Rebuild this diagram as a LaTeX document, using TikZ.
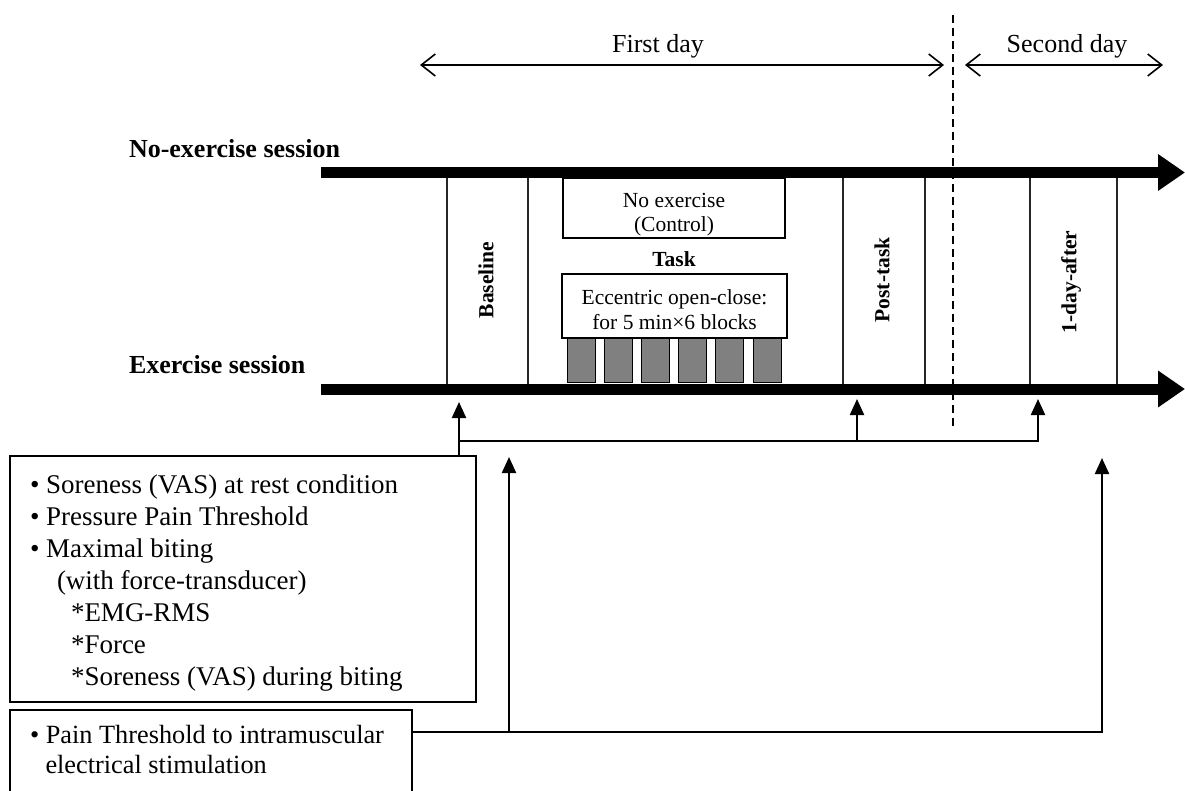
\documentclass[tikz,border=0pt]{standalone}
\usepackage{fontspec}
\setmainfont{Liberation Serif}
\usetikzlibrary{arrows.meta}
\definecolor{blockgray}{RGB}{128,128,128}
\begin{document}
\begin{tikzpicture}[x=1pt,y=-1pt,
  every node/.style={inner sep=0pt, outer sep=0pt},
  lbl/.style={font=\fontsize{26}{32}\selectfont},
  sess/.style={font=\bfseries\fontsize{26}{32}\selectfont, anchor=base west},
  small/.style={font=\fontsize{21.5}{24.5}\selectfont},
  phase/.style={font=\bfseries\fontsize{21.5}{25}\selectfont, rotate=90},
  boxr/.style={draw, line width=1.4pt, anchor=north west},
  blk/.style={draw, line width=1pt, fill=blockgray, minimum width=28pt, minimum height=44pt, anchor=north west},
  div/.style={line width=1.3pt, draw=black!85},
  timeline/.style={line width=11pt, -{Triangle[length=27pt,width=35pt]}},
  dayarrow/.style={line width=1.6pt, {Straight Barb[length=14pt,width=22pt]}-{Straight Barb[length=14pt,width=22pt]}},
  conn/.style={line width=2.2pt},
  tri/.style={-{Triangle[length=16pt,width=14pt]}}
]
\useasboundingbox (0,0) rectangle (1185,791);

% day labels
\node[lbl, anchor=base] (fd) at (658,53) {First day};
\node[lbl, anchor=base] (sd) at (1067,53) {Second day};
\coordinate (fdl) at (420,65); \coordinate (fdr) at (944,65);
\coordinate (sdl) at (965,65); \coordinate (sdr) at (1163,65);
\draw[dayarrow] (fdl) -- (fdr);
\draw[dayarrow] (sdl) -- (sdr);

% day separator
\coordinate (dtop) at (953,15); \coordinate (dbot) at (953,430);
\draw[line width=1.5pt, dash pattern=on 8pt off 5pt] (dtop) -- (dbot);

% session labels
\node[sess] (nosess) at (129,158) {No-exercise session};
\node[sess] (exsess) at (129,373) {Exercise session};

% dividers
\foreach \x in {447,528,843,925,1030,1117}
  \draw[div] (\x,178) -- (\x,384);

% phase labels
\node[phase] (pbase) at (486,280) {Baseline};
\node[phase] (ppost) at (882,280) {Post-task};
\node[phase] (pafter) at (1071,282) {1-day-after};

% task area
\node[boxr, minimum width=222pt, minimum height=60pt] (noex) at (563,178) {};
\node[small, align=center, anchor=north] (noext) at (674,193) {No exercise\\(Control)};
\node[font=\bfseries\fontsize{21.5}{25}\selectfont, anchor=base] (tasklbl) at (674,267) {Task};
\node[boxr, minimum width=225pt, minimum height=64pt] (taskbox) at (562,274) {};
\node[small, align=center, anchor=north] (taskt) at (674.5,290) {Eccentric open-close:\\for 5 min×6 blocks};
\foreach \i in {0,...,5}
  \node[blk] (blk\i) at ({567+37.2*\i},338) {};

% timelines
\coordinate (tl1s) at (321,172.5); \coordinate (tl1e) at (1185,172.5);
\coordinate (tl2s) at (321,389); \coordinate (tl2e) at (1185,389);
\draw[timeline] (tl1s) -- (tl1e);
\draw[timeline] (tl2s) -- (tl2e);

% measurement boxes
\node[boxr, minimum width=466pt, minimum height=246pt] (b1) at (10,456) {};
\node[font=\fontsize{27}{32}\selectfont, align=left, anchor=north west] (b1t) at (30,475) {%
• Soreness (VAS) at rest condition\\
• Pressure Pain Threshold\\
• Maximal biting\\
\hspace*{27pt}(with force-transducer)\\
\hspace*{41pt}*EMG-RMS\\
\hspace*{41pt}*Force\\
\hspace*{41pt}*Soreness (VAS) during biting};

\node[boxr, minimum width=402pt, minimum height=100pt] (b2) at (10,710) {};
\node[font=\fontsize{26.3}{30}\selectfont, align=left, anchor=north west] (b2t) at (30,725) {%
• Pain Threshold to intramuscular\\
\hspace*{15.5pt}electrical stimulation};

% connectors from box 1
\coordinate (t1) at (459,402); \coordinate (t2) at (857,399); \coordinate (t3) at (1038,399);
\coordinate (j1) at (459,441); \coordinate (j2) at (857,441); \coordinate (j3) at (1038,441);
\draw[conn, tri] (b1.north -| j1) -- (t1);
\draw[conn, tri] (j1) -- (j3) -- (t3);
\draw[conn, tri] (j2) -- (t2);

% connectors from box 2
\coordinate (k1) at (509,732); \coordinate (k2) at (1102,732);
\coordinate (u1) at (509,457); \coordinate (u2) at (1102,458);
\draw[conn, tri] (b2.north east |- k1) -- (k2) -- (u2);
\draw[conn, tri] (k1) -- (u1);
\end{tikzpicture}
\end{document}
